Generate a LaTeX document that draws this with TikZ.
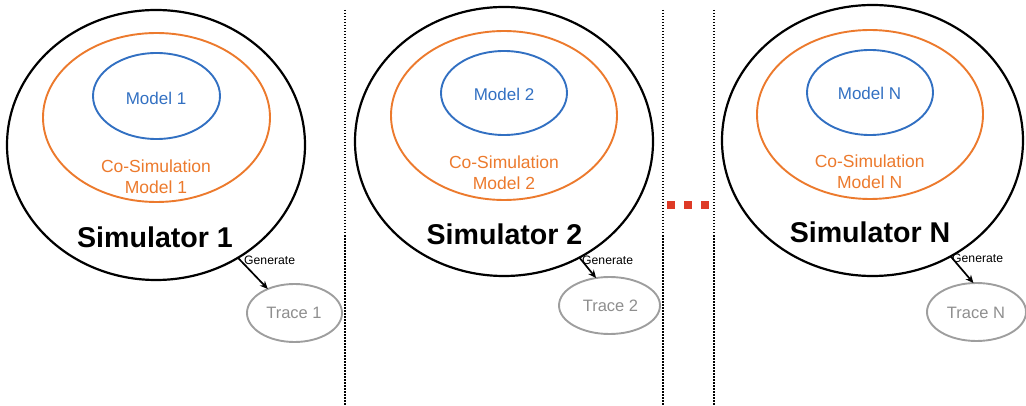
\documentclass[tikz,border=0pt]{standalone}
\usepackage{fontspec}
\setmainfont{Liberation Sans}
\usetikzlibrary{shapes.geometric,arrows.meta}
\definecolor{simblue}{RGB}{50,112,194}
\definecolor{simorange}{RGB}{236,122,45}
\definecolor{tracegray}{RGB}{158,158,158}
\definecolor{dotred}{RGB}{222,58,38}
\tikzset{
  simell/.style={draw=black, line width=2.2pt, ellipse, inner sep=0pt, outer sep=0pt},
  cosimell/.style={draw=simorange, line width=1.9pt, ellipse, inner sep=0pt, outer sep=0pt},
  modell/.style={draw=simblue, line width=1.9pt, ellipse, inner sep=0pt, outer sep=0pt},
  traceell/.style={draw=tracegray, line width=1.9pt, ellipse, inner sep=0pt, outer sep=0pt},
  modtxt/.style={text=simblue, font=\fontsize{17}{20}\selectfont, inner sep=0pt},
  cosimtxt/.style={text=simorange, font=\fontsize{17.5}{21}\selectfont, align=center, inner sep=0pt},
  simtxt/.style={text=black, font=\fontsize{28.6}{32}\selectfont\bfseries, inner sep=0pt},
  tracetxt/.style={text=tracegray!90!black, font=\fontsize{16.5}{19}\selectfont, inner sep=0pt},
  gentxt/.style={text=black, font=\fontsize{12.2}{14}\selectfont, inner sep=0pt, anchor=west},
  genarrow/.style={draw=black, line width=1.7pt, -{Stealth[length=8pt,width=7pt]}},
  sepline/.style={draw=black, line width=1.4pt, dash pattern=on 1.5pt off 1.5pt},
  reddot/.style={fill=dotred, draw=none, minimum size=8pt, inner sep=0pt, rectangle}
}
\begin{document}
\begin{tikzpicture}[x=1pt,y=-1pt]
\useasboundingbox (0,0) rectangle (1026,406);
% separators
\coordinate (s1t) at (345,10); \coordinate (s1b) at (345,406);
\coordinate (s2t) at (663,10); \coordinate (s2b) at (663,406);
\coordinate (s3t) at (714,10); \coordinate (s3b) at (714,406);
\draw[sepline] (s1t) -- (s1b);
\draw[sepline] (s2t) -- (s2b);
\draw[sepline] (s3t) -- (s3b);
% red dots
\node[reddot] (d1) at (671,205) {};
\node[reddot] (d2) at (688,205) {};
\node[reddot] (d3) at (705,205) {};
% Simulator 1
\node[simell, minimum width=298pt, minimum height=270pt] (sim1) at (156,145) {};
\node[cosimell, minimum width=227pt, minimum height=169pt] (cos1) at (156.5,117.5) {};
\node[modell, minimum width=127pt, minimum height=86pt] (mod1) at (156.5,96) {};
\node[modtxt] (mt1) at (156,98) {Model 1};
\node[cosimtxt] (ct1) at (156,176.5) {Co-Simulation\\Model 1};
\node[simtxt] (st1) at (155,237) {Simulator 1};
\node[traceell, minimum width=95pt, minimum height=58pt] (tr1) at (294.5,313) {};
\node[tracetxt] (tt1) at (294,313) {Trace 1};
\draw[genarrow] (sim1.-54) -- (tr1.138);
\node[gentxt] (g1) at (244,260) {Generate};
% Simulator 2
\node[simell, minimum width=298pt, minimum height=269pt] (sim2) at (504,141.5) {};
\node[cosimell, minimum width=226pt, minimum height=169pt] (cos2) at (504,115.5) {};
\node[modell, minimum width=126pt, minimum height=84pt] (mod2) at (504,93) {};
\node[modtxt] (mt2) at (504,94) {Model 2};
\node[cosimtxt] (ct2) at (504,172.5) {Co-Simulation\\Model 2};
\node[simtxt] (st2) at (504.5,234) {Simulator 2};
\node[traceell, minimum width=101pt, minimum height=57pt] (tr2) at (609.5,305.5) {};
\node[tracetxt] (tt2) at (610.5,306) {Trace 2};
\draw[genarrow] (sim2.-57) -- (tr2.116);
\node[gentxt] (g2) at (582,260) {Generate};
% Simulator N
\node[simell, minimum width=301pt, minimum height=271pt] (simN) at (872.5,140.5) {};
\node[cosimell, minimum width=226pt, minimum height=169pt] (cosN) at (870,114.5) {};
\node[modell, minimum width=126pt, minimum height=85pt] (modN) at (870,92.5) {};
\node[modtxt] (mtN) at (869.5,93) {Model N};
\node[cosimtxt] (ctN) at (869.7,172) {Co-Simulation\\Model N};
\node[simtxt] (stN) at (870,232) {Simulator N};
\node[traceell, minimum width=99pt, minimum height=58pt] (trN) at (976.5,312) {};
\node[tracetxt] (ttN) at (976,313) {Trace N};
\draw[genarrow] (simN.-56) -- (trN.96);
\node[gentxt] (gN) at (952,258) {Generate};
\end{tikzpicture}
\end{document}
